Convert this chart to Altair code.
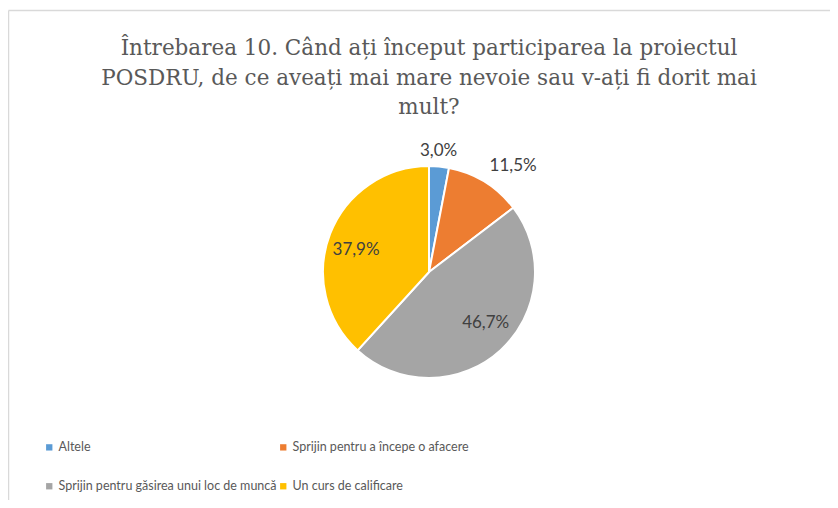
import altair as alt
import pandas as pd

categories = [
    "Altele",
    "Sprijin pentru a începe o afacere",
    "Sprijin pentru găsirea unui loc de muncă",
    "Un curs de calificare",
]
values = [3.0, 11.5, 46.7, 37.9]
labels = ["3,0%", "11,5%", "46,7%", "37,9%"]
colors = ["#5B9BD5", "#ED7D31", "#A5A5A5", "#FFC000"]
title_lines = [
    "Întrebarea 10. Când ați început participarea la proiectul",
    "POSDRU, de ce aveați mai mare nevoie sau v-ați fi dorit mai",
    "mult?",
]

df = pd.DataFrame({"cat": categories, "val": values, "label": labels, "order": list(range(len(categories)))})

W, H = 822, 492
CX, CY = 421, 264
R = 106
LABEL_FONT = "Lato"

base = alt.Chart(df).encode(
    theta=alt.Theta("val:Q", stack=True),
    order=alt.Order("order:Q"),
)

pie = base.mark_arc(outerRadius=R, stroke="white", strokeWidth=2).encode(
    x=alt.value(CX),
    y=alt.value(CY),
    color=alt.Color(
        "cat:N",
        scale=alt.Scale(domain=categories, range=colors),
        sort=categories,
        legend=alt.Legend(
            title=None,
            orient="none",
            legendX=35,
            legendY=433,
            columns=2,
            direction="horizontal",
            gridAlign="all",
            symbolType="square",
            symbolSize=40,
            symbolStrokeWidth=0,
            labelFont=LABEL_FONT,
            labelFontSize=12.5,
            labelColor="#595959",
            labelOffset=3,
            labelLimit=400,
            columnPadding=-6,
            rowPadding=26,
            padding=0,
        ),
    ),
)

def text_layer(idx, radius, dx=0, dy=0):
    return base.mark_text(
        font=LABEL_FONT, fontSize=17, color="#404040", dx=dx, dy=dy,
        align="center", baseline="middle",
    ).encode(
        x=alt.value(CX),
        y=alt.value(CY),
        radius=alt.value(radius),
        text=alt.condition(f"datum.order == {idx}", alt.Text("label:N"), alt.value("")),
    )

lab0 = text_layer(0, 122, dx=-2)
lab1 = text_layer(1, 135, dx=13, dy=9)
lab2 = text_layer(2, 75, dx=6, dy=-4)
lab3 = text_layer(3, 75, dx=-3, dy=5)

title = alt.Chart(pd.DataFrame({"t": ["\n".join(title_lines)]})).mark_text(
    font="DejaVu Serif", fontSize=21.5, color="#595959", lineBreak="\n",
    lineHeight=29.5, align="center", baseline="alphabetic",
).encode(x=alt.value(421), y=alt.value(47), text="t:N")

border_top = alt.Chart(pd.DataFrame({"a": [0]})).mark_rule(color="#D9D9D9", strokeWidth=1.5).encode(
    x=alt.value(0.5), x2=alt.value(W), y=alt.value(2.5)
)
border_left = alt.Chart(pd.DataFrame({"a": [0]})).mark_rule(color="#D9D9D9", strokeWidth=1.5).encode(
    x=alt.value(0.5), y=alt.value(2.5), y2=alt.value(H)
)

chart = alt.layer(border_top, border_left, title, pie, lab0, lab1, lab2, lab3).properties(
    width=W, height=H, padding=0, autosize=alt.AutoSizeParams(type="none")
).configure_view(stroke=None)

chart.save("out.html", embed_options={"renderer": "svg", "actions": False})
